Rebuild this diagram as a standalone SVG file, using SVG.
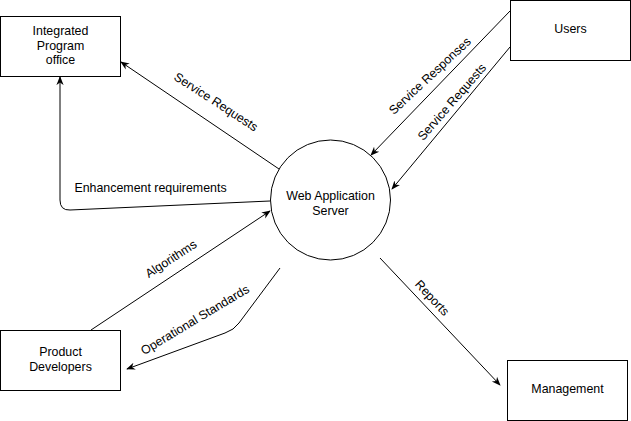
<svg xmlns="http://www.w3.org/2000/svg" width="631" height="421" viewBox="0 0 631 421">
<style>
.box{fill:#fff;stroke:#000;stroke-width:1}
.t{font-family:"Liberation Sans",Arial,sans-serif;font-size:12.4px;fill:#000;text-anchor:middle}
.c{fill:none;stroke:#000;stroke-width:1;marker-end:url(#arr)}
</style>
<defs>
<marker id="arr" viewBox="0 0 10 10" refX="9" refY="5" markerWidth="9" markerHeight="9" markerUnits="userSpaceOnUse" orient="auto">
<path d="M0,1 L10,5 L0,9 L3,5 Z" fill="#000"/>
</marker>
</defs>
<rect width="631" height="421" fill="#fff"/>
<g id="connectors">
<path class="c" d="M279,169 L121,62"/>
<path class="c" d="M270,201 L70,210 Q60,210.5 60,200 L60,77"/>
<path class="c" d="M91,330 L270,211"/>
<path class="c" d="M280,268 L239,323 Q234,330 225,333 L127,369"/>
<path class="c" d="M510,11 L371,155"/>
<path class="c" d="M510,47 L392,189"/>
<path class="c" d="M380,258 L500,385"/>
<text class="t" transform="translate(216,102) rotate(33)" y="4">Service Requests</text>
<text class="t" x="150.5" y="192">Enhancement requirements</text>
<text class="t" transform="translate(171,259) rotate(-33)" y="4">Algorithms</text>
<text class="t" transform="translate(195,320) rotate(-31)" y="4">Operational Standards</text>
<text class="t" transform="translate(430,76) rotate(-43)" y="4">Service Responses</text>
<text class="t" transform="translate(452,102) rotate(-49)" y="4">Service Requests</text>
<text class="t" transform="translate(432,298) rotate(47)" y="4">Reports</text>
</g>
<g id="ipo">
<rect class="box" x="0.5" y="16.5" width="120" height="60"/>
<text class="t" x="60.5" y="35">Integrated</text>
<text class="t" x="60.5" y="50">Program</text>
<text class="t" x="60.5" y="64">office</text>
</g>
<g id="users">
<rect class="box" x="510.5" y="0.5" width="120" height="60"/>
<text class="t" x="570.5" y="33">Users</text>
</g>
<g id="server">
<circle class="box" cx="330.5" cy="200" r="60"/>
<text class="t" x="330.5" y="200">Web Application</text>
<text class="t" x="330.5" y="215">Server</text>
</g>
<g id="developers">
<rect class="box" x="0.5" y="330.5" width="120" height="60"/>
<text class="t" x="60.5" y="356">Product</text>
<text class="t" x="60.5" y="371">Developers</text>
</g>
<g id="management">
<rect class="box" x="507.5" y="360.5" width="120" height="60"/>
<text class="t" x="567.5" y="393">Management</text>
</g>
</svg>
